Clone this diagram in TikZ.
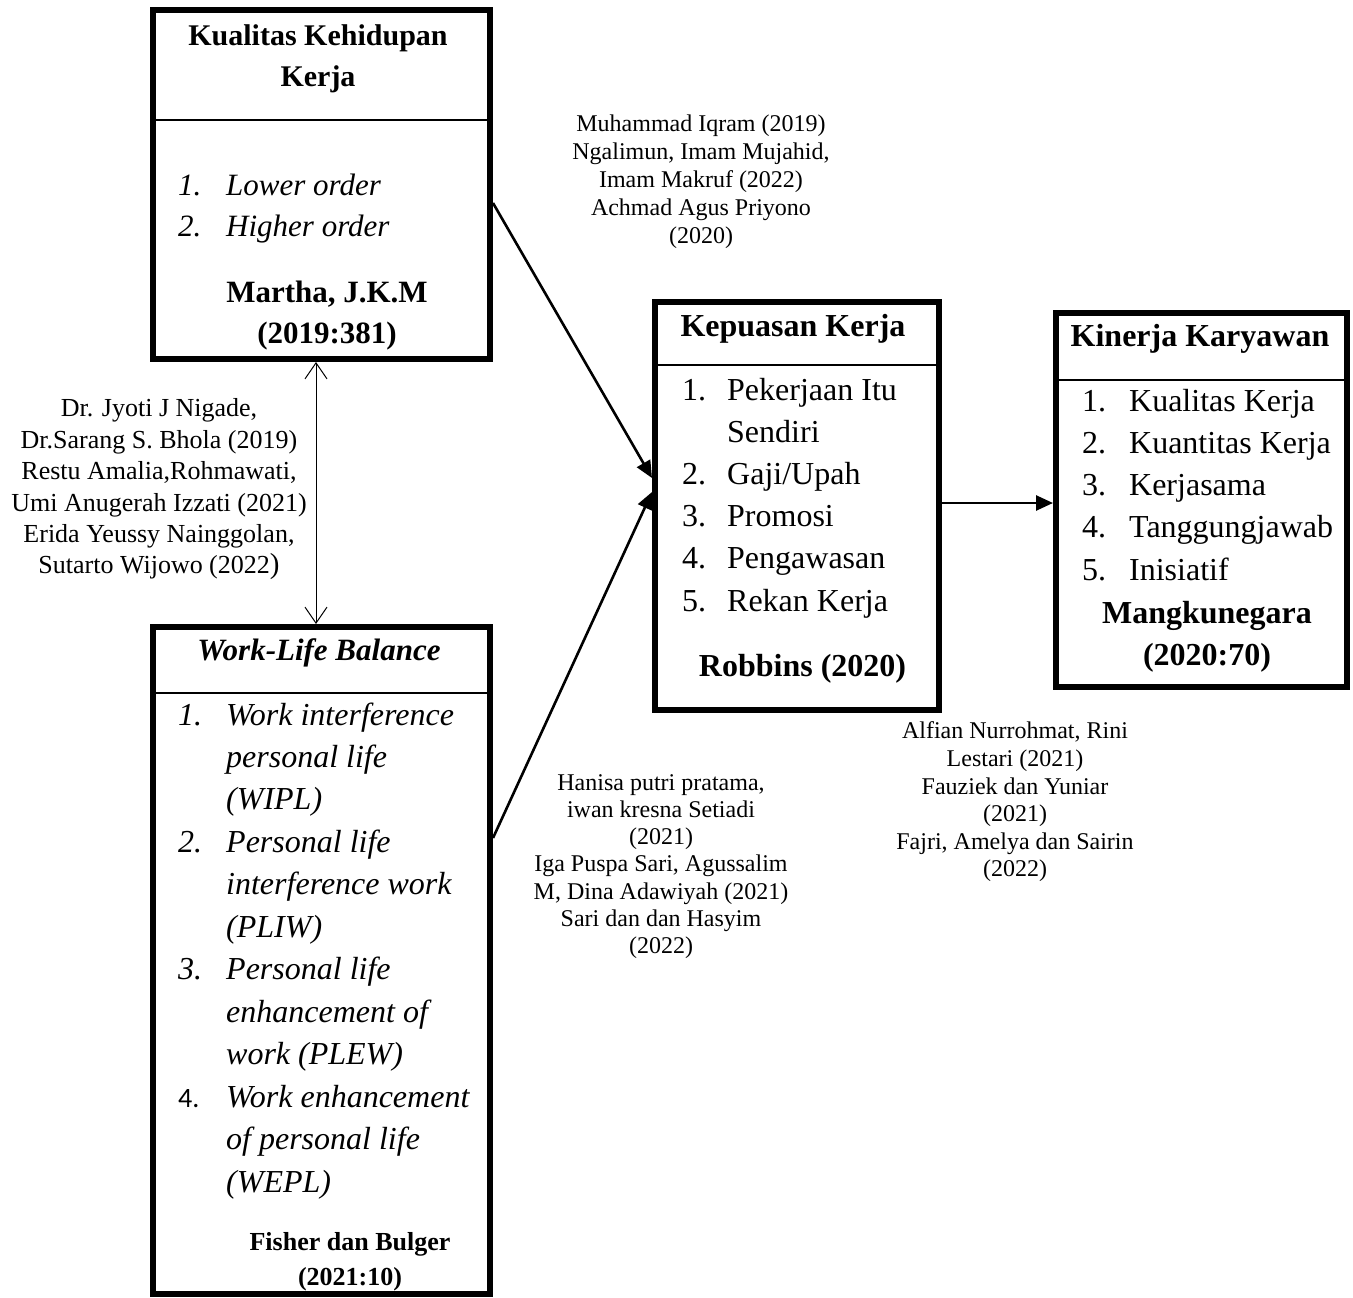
\documentclass[tikz,border=0pt]{standalone}
\usepackage{fontspec}
\setmainfont{Liberation Serif}
\newfontfamily\calfont{Carlito}
\usetikzlibrary{arrows.meta}
\begin{document}
\begin{tikzpicture}[x=1pt,y=-1pt,
  box/.style={draw, line width=6pt, rectangle, inner sep=0pt},
  divider/.style={line width=2.5pt},
  ttl/.style={inner sep=0pt, align=center, font=\fontsize{32}{41}\selectfont\bfseries},
  lst/.style={inner sep=0pt, anchor=base west, align=left},
  cite/.style={inner sep=0pt, align=center, font=\fontsize{24}{27.6}\selectfont},
  conn/.style={line width=2.6pt, -{Triangle[length=17pt,width=15pt]}},
  dbl/.style={line width=1pt, {Straight Barb[length=16pt,width=22pt]}-{Straight Barb[length=16pt,width=22pt]}}
]
\useasboundingbox (0,0) rectangle (1353,1298);

% boxes
\node[box, minimum width=337pt, minimum height=349pt] (b1) at (321.5,184.5) {};
\node[box, minimum width=337pt, minimum height=667pt] (b2) at (321.5,960.5) {};
\node[box, minimum width=284pt, minimum height=408pt] (b3) at (797,506) {};
\node[box, minimum width=291pt, minimum height=374pt] (b4) at (1201.5,500) {};

% dividers
\draw[divider] (b1.west |- 0,120) -- (b1.east |- 0,120);
\draw[divider] (b2.west |- 0,693) -- (b2.east |- 0,693);
\draw[divider] (b3.west |- 0,365) -- (b3.east |- 0,365);
\draw[divider] (b4.west |- 0,380) -- (b4.east |- 0,380);

% box 1
\node[ttl, font=\fontsize{30}{41}\selectfont\bfseries] (t1) at (318,58.5) {Kualitas Kehidupan\\Kerja};
\node[lst, font=\fontsize{31}{41}\selectfont\itshape] (l1) at (178,236)
  {\makebox[48pt][l]{1.}Lower order\\\makebox[48pt][l]{2.}Higher order};
\node[ttl, font=\fontsize{31}{41}\selectfont\bfseries] (r1) at (327,315.5) {Martha, J.K.M\\(2019:381)};

% box 2
\node[ttl, font=\fontsize{31}{41}\selectfont\bfseries\itshape] (t2) at (319,653) {Work-Life Balance};
\node[lst, font=\fontsize{32}{42.45}\selectfont\itshape] (l2) at (178,1192)
  {\makebox[48pt][l]{1.}Work interference\\
   \hspace*{48pt}personal life\\
   \hspace*{48pt}(WIPL)\\
   \makebox[48pt][l]{2.}Personal life\\
   \hspace*{48pt}interference work\\
   \hspace*{48pt}(PLIW)\\
   \makebox[48pt][l]{3.}Personal life\\
   \hspace*{48pt}enhancement of\\
   \hspace*{48pt}work (PLEW)\\
   \makebox[48pt][l]{\upshape\calfont\fontsize{28}{42.45}\selectfont 4.}Work enhancement\\
   \hspace*{48pt}of personal life\\
   \hspace*{48pt}(WEPL)};
\node[ttl, font=\fontsize{26}{35}\selectfont\bfseries] (r2) at (350,1262) {Fisher dan Bulger\\(2021:10)};

% box 3
\node[ttl] (t3) at (793,328.5) {Kepuasan Kerja};
\node[lst, font=\fontsize{32}{42.2}\selectfont] (l3) at (682,611)
  {\makebox[45pt][l]{1.}Pekerjaan Itu\\
   \hspace*{45pt}Sendiri\\
   \makebox[45pt][l]{2.}Gaji/Upah\\
   \makebox[45pt][l]{3.}Promosi\\
   \makebox[45pt][l]{4.}Pengawasan\\
   \makebox[45pt][l]{5.}Rekan Kerja};
\node[ttl] (r3) at (802.5,668.5) {Robbins (2020)};

% box 4
\node[ttl] (t4) at (1200,339) {Kinerja Karyawan};
\node[lst, font=\fontsize{32}{42.25}\selectfont] (l4) at (1082,580)
  {\makebox[47pt][l]{1.}Kualitas Kerja\\
   \makebox[47pt][l]{2.}Kuantitas Kerja\\
   \makebox[47pt][l]{3.}Kerjasama\\
   \makebox[47pt][l]{4.}Tanggungjawab\\
   \makebox[47pt][l]{5.}Inisiatif};
\node[ttl, font=\fontsize{32}{42}\selectfont\bfseries] (r4) at (1207,637) {Mangkunegara\\(2020:70)};

% citations
\node[cite, font=\fontsize{24}{28}\selectfont] (c1) at (701,182)
  {Muhammad Iqram (2019)\\Ngalimun, Imam Mujahid,\\Imam Makruf (2022)\\Achmad Agus Priyono\\(2020)};
\node[cite, font=\fontsize{26}{31.4}\selectfont] (c2) at (159,489.5)
  {Dr. Jyoti J Nigade,\\Dr.Sarang S. Bhola (2019)\\Restu Amalia,Rohmawati,\\Umi Anugerah Izzati (2021)\\Erida Yeussy Nainggolan,\\Sutarto Wijowo (2022{\fontsize{29}{31.4}\selectfont)}};
\node[cite, font=\fontsize{24}{27.2}\selectfont] (c3) at (661,866.5)
  {Hanisa putri pratama,\\iwan kresna Setiadi\\(2021)\\Iga Puspa Sari, Agussalim\\M, Dina Adawiyah (2021)\\Sari dan dan Hasyim\\(2022)};
\node[cite] (c4) at (1015,802)
  {Alfian Nurrohmat, Rini\\Lestari (2021)\\Fauziek dan Yuniar\\(2021)\\Fajri, Amelya dan Sairin\\(2022)};

% connectors
\draw[conn] (b1.east |- 0,203) -- (b3.west |- 0,478);
\draw[conn] (b2.east |- 0,838) -- (b3.west |- 0,492);
\draw[conn] (b3.east |- 0,503) -- (b4.west |- 0,503);
\draw[dbl] (b1.south -| 316,0) -- (b2.north -| 316,0);
\end{tikzpicture}
\end{document}
